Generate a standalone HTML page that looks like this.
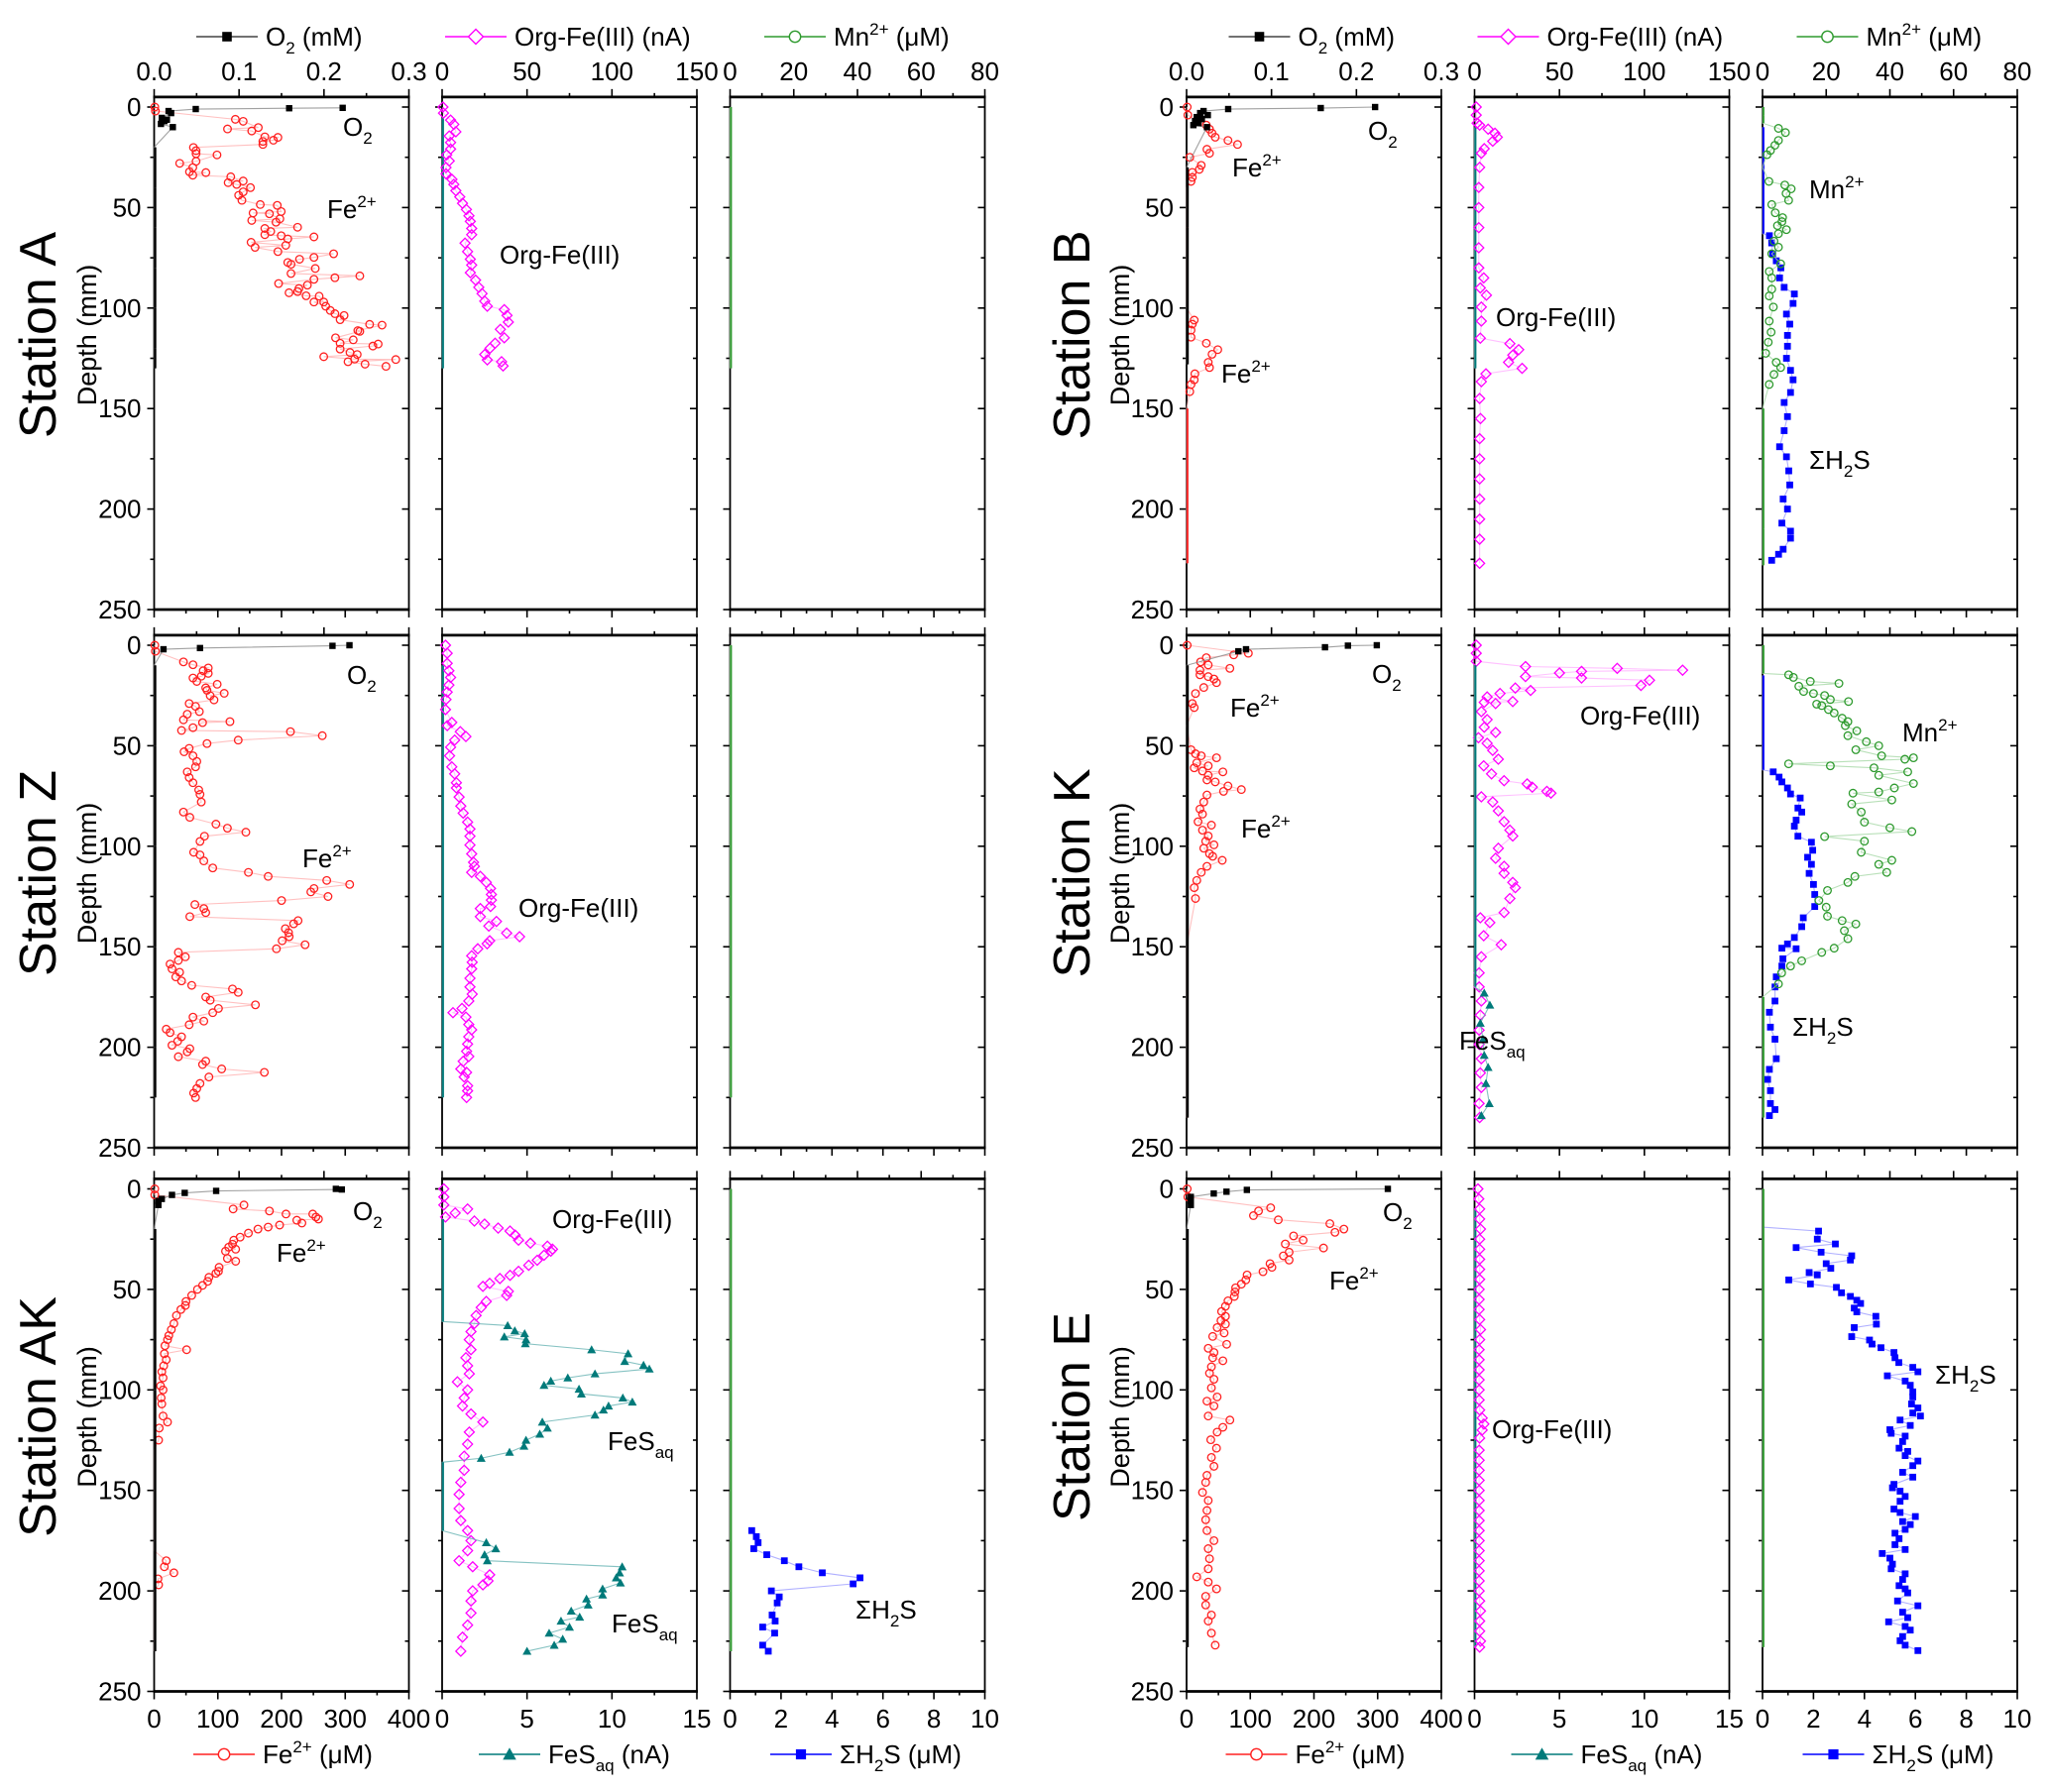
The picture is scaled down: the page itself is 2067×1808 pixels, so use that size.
<!DOCTYPE html>
<html><head><meta charset="utf-8"><style>
html,body{margin:0;padding:0;background:#fff}
svg{display:block}
text{font-family:"Liberation Sans",Arial,sans-serif;fill:#000}
</style></head><body>
<svg id="chart" xmlns="http://www.w3.org/2000/svg" width="2067" height="1808" viewBox="0 0 2067 1808">
<rect width="2067" height="1808" fill="#fff"/>
</svg>
<script>
// ===== Station A =====
const A_o2_d=[0.4,0.6,1,2,3,5.4,6.3,7,8.4,10,20,40,60,80,100,120,130];
const A_o2_v=[0.222,0.159,0.049,0.017,0.02,0.009,0.015,0.012,0.008,0.022,0,0,0,0,0,0,0];
const A_fe_d=[0,2,6.1,7.1,10.9,11.9,10.2,14.8,15.1,17.1,16.5,18.6,20.1,21.7,23.2,23.8,28.0,27.0,30.1,32.2,33.9,32.6,34.7,36.8,37.6,38.5,40.1,42.2,43.9,46.4,48.5,48.9,52.0,52.7,53.1,55.6,56.4,57.3,60.4,61.9,59.8,64.0,64.6,63.5,65.6,67.3,69.8,68.8,71.9,73.0,75.7,77.3,74.8,78.2,80.3,82.8,85.7,84.9,84.0,88.6,87.8,90.3,91.8,92.4,93.9,94.1,97.0,97.0,99.1,101.2,102.8,105.8,103.7,111.6,108.1,108.5,111.2,117.9,114.8,115.8,117.5,118.9,120.4,122.1,123.1,124.2,125.4,126.7,127.9,125.6,129.0];
const A_fe_v=[1,2,127.5,139.8,115.2,153.2,163.5,173.8,194.3,170.7,187.2,170.7,61.7,65.8,65.8,98.7,40.1,65.8,60.7,55.5,60.7,81.2,120.3,139.8,116.2,129.6,151.2,139.8,132.7,137.8,166.6,193.3,199.5,155.3,181.0,197.4,153.2,191.3,173.8,183.0,225.2,199.5,250.9,173.8,209.8,152.2,158.4,206.7,194.3,281.8,228.3,209.8,250.9,214.9,253.0,214.9,250.9,283.8,322.9,240.6,195.4,227.3,225.2,211.8,238.6,259.1,266.3,250.9,269.4,276.6,283.8,292.0,298.2,322.9,338.3,357.8,319.8,351.7,284.8,312.6,292.0,343.4,292.0,307.5,318.8,266.3,314.7,304.4,331.1,379.4,364.0];
const A_org_d=[0,3,6.5,8.6,12.3,14.4,17.6,20.9,23.8,26.8,30.1,33.2,36,38.5,41.6,44.7,47.9,51,54.1,56.9,60.4,63.5,67.7,71.9,75.7,78.6,82.4,86.1,89.7,92.8,96.6,99.1,100.8,103.7,107,110.6,114.8,117.5,120,123.1,125.8,126.7,128.8];
const A_org_v=[0.5,0.8,5,6.9,8.1,4.2,5,5,2.7,4.2,2.3,2.3,5.8,6.9,8.1,10.4,12,14.3,15.8,16.6,17.4,17.4,13.5,15,16.6,17.4,16.6,19.7,21.6,23.5,25.1,26.6,36.6,38.2,39,34.3,36.6,31.2,28.2,25.1,26.6,35,35.9];
const A_fes_d=[5,130]; const A_fes_v=[0,0];
const A_mn_d=[0,130]; const A_mn_v=[0,0];
// ===== Station Z =====
const Z_o2_d=[0,0.3,1.4,2,10,50,100,150,200,225];
const Z_o2_v=[0.23,0.21,0.054,0.011,0,0,0,0,0,0];
const Z_fe_d=[0,3,8.3,9.7,11.3,12.7,14,15.4,16.3,18,19.4,21.2,23.9,22.4,25.1,27.2,29,30.4,33,34.3,37.1,38.5,38,41,42.4,43,45,47.2,48.9,51.3,53,55,57.8,60.5,63,65.8,68.4,72,74.2,78,83,85.6,89,91,93,95,97.6,103,104.3,107.3,110.8,113,115,117,119,121,122.7,125,127,129,131,133,135,137,138.6,141,143,145,147,149,151,152.8,155,156.8,158.6,161,162.7,165,167,169.2,171,172.7,175,176.6,178.9,180.7,182.8,185,187,188.8,191,192.7,194.8,197,199,200.7,202.3,204.7,206.9,208.6,210.8,212.5,214.8,218,220.5,222.8,225];
const Z_fe_v=[1,2,46,61,85,77,85,74,61,67,99,81,110,83,88,94,55,65,71,52,46,76,119,61,43,214,264,132,83,55,47,61,67,65,52,55,61,70,72,74,46,56,97,115,144,79,72,62,72,78,92,148,179,271,307,251,246,273,200,64,78,81,56,226,219,206,211,212,201,237,192,38,49,38,25,28,40,34,43,59,123,132,81,88,159,101,92,61,78,55,19,25,43,37,28,56,52,38,81,76,106,173,86,72,67,62,65];
const Z_org_d=[0,4,9,12.7,16,19.8,23.3,27,32,38.4,40,43,45.4,47.2,50.7,55,60.5,64,68.4,71,75.5,80,83.5,88,91.4,95,99.4,103.8,108,110,113,115,118,121,124,126.8,130,131,135,137.4,139.7,143.2,145,147,148.5,151,154.5,157.7,161,165.7,170,173.6,177,180.7,182.8,185,188.7,191.3,194.8,198.4,202,204.6,207,210.8,212.5,214.8,219.2,221.7,225];
const Z_org_v=[2,3,3,4,5,4,3,2.3,2,5.7,3,10.7,14,7.4,5,4.4,5.7,7.4,8.4,8.4,10,11,12.4,15,16.4,16.4,16.4,17.4,18.5,19,17.4,22.5,26,28.5,29,29,28.5,22.5,22.5,32,27.5,38,45.6,28,26.5,21,17.4,17.7,17.4,16.4,16.4,17.7,15.7,11.7,6.4,14,15.7,17.4,15.7,15,14.4,15.7,12.4,11,14.4,13,15,15,14.4];
const Z_fes_d=[10,225]; const Z_fes_v=[0,0];
const Z_mn_d=[0,225]; const Z_mn_v=[0,0];
// ===== Station AK =====
const AK_o2_d=[0,0.3,1,2,3,5,6,8,20,100,230];
const AK_o2_v=[0.214,0.221,0.073,0.036,0.021,0.009,0.005,0.005,0,0,0];
const AK_fe_d=[0,3,8,10,11,12.5,12.5,14,15,17,15.6,18,19,20,22,24,25.5,27.5,29,31,30,34.6,36,39,41,42,44,46,48,50,53,56,58,60,63,67,70,73,75,78,80,82,85,88,91,94,98,100,104,107,113,116,119,125,130,180,185,188,191,194,197,200,230];
const AK_fe_v=[1,1,141,124,181,207,249,254,258,232,224,197,179,163,148,135,125,123,117,112,128,115,128,102,101,97,86,84,76,68,59,50,49,42,35,31,27,23,21,17,51,16,19,15,12,14,10,14,11,12,14,21,8,7,0,0,19,16,31,6,7,0,0];
const AK_org_d=[0,4,8,10,12,14,16,17.5,19.5,21,23,25.5,27,28.5,30,31,33,35.5,38,41,43,44.6,47,48.5,51,53,56,59,63,67,71,75,80,84,88,92,96,100,104,108,112,116,121,127,133,140,146,152,159,165,170,175,180,185,188,192,195,197,200,205,211,217,223,230];
const AK_org_v=[1,1,1,15,7.7,2,19,25,33,40,43,45,52,62,65,64,60,56,51,45,40,34,28,24,39,38,26,23,20,19,17,16,17,14,15,16,9,15,13,12,17,24,16,15,13,13,11,10,10,11,15,17,15,10,18,28,27,24,18,17,17,15,12,11];
const AK_fes_d=[15,66,68,70.6,72,73.6,75,77,80,82,85.8,87.7,89.6,92,94,95.6,97.7,99.6,102,104,106,108,110,112.5,116,119,122,125,128,131,134,136,170,176,179,182,185,188,191,193.5,196,199,202,204,207,210,213,215,218,221,224,227,230];
const AK_fes_v=[0,0,3.86,4.28,4.86,3.66,4.94,4.9,8.8,10.95,10.75,11.86,12.2,9.0,7.4,6.4,6.0,8.06,8.2,10.64,11.2,9.8,9.5,9.0,5.9,6.2,5.75,4.94,4.82,3.97,2.3,0,0,2.6,3.16,2.5,2.66,10.6,10.45,10.25,10.5,9.45,9.45,8.5,8.6,7.6,8.1,7.0,7.5,6.3,7.1,6.6,5.0];
const AK_mn_d=[0,230]; const AK_mn_v=[0,0];
const AK_h2s_d=[170,173,176,179,182,185,188,191,193.5,196.5,200,203,206,212,215,218,221,227,230];
const AK_h2s_v=[0.85,1.03,1.1,0.93,1.44,2.13,2.7,3.62,5.1,4.83,1.62,1.93,1.85,1.65,1.77,1.28,1.75,1.28,1.5];
// ===== Station B =====
const B_o2_d=[0,0.5,1,2,3,4,5,6,7,8,9,10,30,60,90,128];
const B_o2_v=[0.222,0.158,0.049,0.02,0.016,0.025,0.012,0.018,0.01,0.014,0.008,0.024,0,0,0,0];
const B_fe_d=[0,4,9,11,13,15,16.6,18.6,21,23,25,29,31,32.5,35,37,40,60,80,100,106,108,111,114.5,117.5,120.7,123,127,129.6,132.7,135.7,138,141.6,150,175,200,227];
const B_fe_v=[1,2,31,36,40,45,65,80,32,36,5,23,20,9,9,7,0,0,0,0,12,9,7,7,31,49,40,34,36,13,12,7,5,0,0,0,0];
const B_org_d=[0,4,8,9,11,13,15,17,20.7,23,30,40,50,60,70,80,85,90,93.6,99.5,106.5,115,117.7,120.7,123.4,127,130,132.7,136.6,145,155,165,175,185,195,205,215,227];
const B_org_v=[1,1,1.5,3,8,12,13.4,10.7,5.7,4,3,2.5,2.5,2.5,2.5,2.5,5.4,3.4,7,4,4,3.4,20.8,26,22.5,20,28,6.7,4,3,3.5,3,3,3,3,3,3,3];
const B_fes_d=[10,130]; const B_fes_v=[0,0];
const B_mn_d=[0,4,8,10.6,12.7,16.6,19,21.6,23.7,30,37,38.8,40.7,43,46.4,48.5,52.6,55,57,59,61,63,66.7,69.7,73,78,81.8,85,90.6,94,99.5,106.5,112,117,122.5,127,129.6,133,138,150,180,210,228];
const B_mn_v=[0,0,0,5,7.2,5,3.9,2.5,1.4,0,2,7,9,7.4,8.2,2.9,4,6.3,6.1,4.7,7.5,5,3.6,5,2.9,5.7,2.1,2.9,2.9,2.1,3.4,2.1,2.7,1.8,1,4.3,5.7,3.6,2.1,0,0,0,0];
const B_h2s_d=[10,63,64,67.6,73,76.5,80,85,89.7,93,97.7,103,108,113.6,119,125,131,135.7,142,147,154,161,169,174,181,188,195,200,207,211,214.5,220,222.5,225.5];
const B_h2s_v=[0,0,0.27,0.36,0.4,0.54,0.72,0.67,0.85,1.25,1.2,0.94,1.07,0.98,0.98,0.94,1.1,1.2,1.1,0.85,0.98,0.85,0.67,0.94,1.03,1.07,0.81,0.98,0.76,1.1,1.1,0.81,0.63,0.36];
// ===== Station K =====
const K_o2_d=[0,0.2,1,2,3,10,100,235];
const K_o2_v=[0.224,0.19,0.163,0.07,0.061,0,0,0];
const K_fe_d=[0,4,4.8,6.2,8.3,9.8,11.5,12.4,14.7,15.6,16.8,18.6,21,24,29,31,40,52,54,55,56,58.5,60,61,62.6,63,64.7,67,68,70,72.7,71.8,74.5,78,81.5,84,87.8,89.5,92,94.9,97.5,99.3,101,103.7,105,107,110,113,117,120.6,126,150,200,235];
const K_fe_v=[1,97,74,31,22,34,68,21,21,34,43,47,27,14,9,12,0,7,14,23,47,16,34,12,25,57,34,32,45,65,58,86,32,27,21,25,18,39,25,34,30,43,27,36,41,56,32,23,16,12,14,0,0,0];
const K_org_d=[0,4,8,10.6,11.5,12.4,13,13.8,15.6,16.3,17.4,20,21.3,22.5,24,25.7,28,28.4,29,33,37,40.8,43.4,46,48.8,52.3,56.7,60,64,67.4,69,70.6,72.7,73.6,75.4,78,82.4,87.8,92,94.9,101,106,110,113.5,118,120.6,126,133,135.6,138,144.5,149,155,163,170,177,184,191.5,198.6,205.7,212.8,220,228,235];
const K_org_v=[1,1,1,30,84,122.5,63,50,30,63,103,98,24,33,15,7.4,22.5,5.7,12.4,4,7.4,5.7,12.4,2.3,7.4,10.7,14,5.4,10,17.4,31,34,42.6,45,4,10.7,14,17.4,20.8,22.5,14,12.4,17.4,17.4,22.5,24,20.8,17.4,3.4,9,5.4,15.7,4,2.7,2.7,4,3.4,2.7,2.7,4,3.4,4,2.7,3];
const K_fes_d=[10,170,173,179,188,196,204,210,218,228,234];
const K_fes_v=[0,0,0.57,0.9,0.34,0.5,0.57,0.8,0.67,0.87,0.4];
const K_mn_d=[0,14,14.7,16,18,19,20.4,23,24,25,27,28,29.3,30,32,33.7,36.3,38,40,42.6,45,48,50,52,55,56,56.7,59,60,61,63,64.7,68.8,71,73,73.6,77,79,83,88,90.8,92.7,95.2,97.5,103,107,109,113,115,118,122,127,130.3,134.8,137,138.7,142,146,150.7,152.8,157,159.6,163,168.5,175,200,235];
const K_mn_v=[0,0,8.2,9.7,15,24,11.4,12.9,16,19.5,21.3,27,17,18.6,20.7,22.5,25,26.8,26,29.6,26.8,32.6,36.5,29.3,37.4,47.4,44.7,8.2,21.3,35,45.6,36.5,47.4,41.4,36.5,28.4,40.6,28,31,32,40,46.9,19.5,32,31,40.6,36.5,39,29,26.8,20.4,17.7,20,20.4,25,29.3,25.7,26.8,22.5,18.6,12.3,8.8,6,5,0,0,0];
const K_h2s_d=[15,62,63,65.6,68,71,74,76,81,83,87,90,95,98,102,105.5,109,113.5,119,124,130,135.6,140,145.4,148.6,150.7,151,156,159.6,165,170,177,182.6,190,196,205.7,211,216,221.6,228,231,234];
const K_h2s_v=[0,0,0.42,0.65,0.76,0.98,1.1,1.48,1.39,1.54,1.32,1.25,1.39,1.92,1.97,1.77,1.92,1.83,2.0,2.05,2.05,1.6,1.54,1.25,0.98,0.76,1.32,0.8,0.76,0.54,0.49,0.49,0.27,0.31,0.49,0.54,0.27,0.2,0.31,0.31,0.49,0.27];
// ===== Station E =====
const E_o2_d=[0,0.5,1.4,2.3,4,6,8,20,100,228];
const E_o2_v=[0.237,0.071,0.047,0.032,0.005,0.005,0.005,0,0,0];
const E_fe_d=[0,4,9.4,11,13.3,15.4,17.3,20,21.6,23.4,25.5,27.4,29.4,31.5,33.3,35.4,37.2,39,41.2,42.8,45.3,47.4,49.2,51.3,53.5,55.7,58.4,61,63.4,65.5,67.3,69,71.7,73.4,77.3,79.3,81.4,84,85.5,88.5,91.7,94.7,99,103.5,105.6,108,113,115,118.6,121,124.8,129,133.6,138,142.5,146,151,155,160,164.6,170,175,179,184,189,193,195.6,199,202.7,207,212,215,221,227];
const E_fe_v=[1,2,132,113,105,144,225,247,233,168,183,155,215,161,152,161,131,134,120,95,93,86,77,76,75,65,61,55,61,54,61,48,59,41,63,34,43,41,57,39,36,43,39,48,32,43,34,68,57,48,38,47,39,43,32,30,25,34,32,30,32,43,34,36,34,16,34,47,30,30,39,34,39,45];
const E_org_d=[0,5,10,15,20,25,30,35,40,45,50,55,60,65,70,75,80,85,90,95,100,105,110,114,117,120,124,130,135,140,145,150,155,160,165,170,175,180,185,190,195,200,205,210,215,220,225,228];
const E_org_v=[2,2.5,3,3,3.5,3,3,3,3,3,2.7,2.7,2.7,3,3.5,3,2.7,2.7,2.7,2.7,2.7,2.7,3,4.5,5.5,4.5,3,2.7,2.7,2.7,2.7,2.7,2.7,2.7,2.7,2.7,2.7,2.7,2.7,2.7,2.7,2.7,3,3.5,3,3,3.5,3];
const E_fes_d=[10,228]; const E_fes_v=[0,0];
const E_mn_d=[0,228]; const E_mn_v=[0,0];
const E_h2s_d=[19,21,25,27.4,29.2,31.5,33.3,35.4,37.2,39.5,41.6,42.8,45.3,47.3,49,51.7,53.5,55.4,57,59.3,61.2,63.4,67.3,69,73.5,75.2,77.2,79,81.4,84,86.4,88.8,91,93,95.6,97.7,101,103.5,107,109,111.5,113,115,117.7,119.8,121.6,123,125.7,129,130.6,132.7,135.4,137.7,141,143.4,147,148.7,150.4,153,155.4,159.3,161,163,165.5,167,169.4,171.3,174,177,179.4,181.4,183.7,186.7,189,191.5,194.3,197.4,199,201,205,207.4,210.6,213.3,215.4,217.7,219.5,222.7,224.8,227,229.7];
const E_h2s_v=[0,2.2,2.15,2.86,1.32,2.3,3.5,3.45,2.5,2.68,1.83,2.15,1.03,1.88,2.9,3.1,3.45,3.7,3.85,3.6,3.7,4.45,4.47,3.6,3.5,4.2,4.3,4.65,5.16,5.2,5.35,5.9,6.1,4.9,5.6,5.8,5.9,5.9,5.85,6.1,5.9,6.2,5.4,5.8,5.0,5.05,5.6,5.5,5.36,5.7,5.6,6.1,5.9,5.5,5.9,5.16,5.1,5.4,5.6,5.4,5.16,5.4,6.0,5.5,5.8,5.6,5.2,5.36,5.2,5.6,4.7,5.0,5.1,5.05,5.6,5.5,5.36,5.6,5.7,5.3,6.1,5.5,5.7,4.95,5.6,5.8,5.5,5.4,5.6,6.1];
// axis tick values
const topMax=[0.3,150,80], topStep=[0.1,50,20];
const botMax=[400,15,10], botStep=[100,5,2];
const depthTicks=[0,50,100,150,200,250];

const NS='http://www.w3.org/2000/svg';
const svg=document.getElementById('chart');
const LEFTS=[[155.5,446,736.5],[1197,1487.5,1778]];
const Y0=[108,651,1199.5]; const KMM=2.028; const PW=257;
function mk(tag,attrs,parent){const e=document.createElementNS(NS,tag);for(const k in attrs)e.setAttribute(k,attrs[k]);(parent||svg).appendChild(e);return e;}
function yOf(r,d){return Y0[r]+d*KMM;}
function xOf(x0,v,max){return x0+v/max*PW;}

// frames
for(let side=0;side<2;side++)for(let r=0;r<3;r++)for(let k=0;k<3;k++){
  const x0=LEFTS[side][k],top=yOf(r,-5),bot=yOf(r,250);
  const g=mk('g',{});
  
  
  mk('line',{x1:x0,y1:top,x2:x0,y2:bot,stroke:'#000','stroke-width':1.8},g);
  mk('line',{x1:x0+PW,y1:top,x2:x0+PW,y2:bot,stroke:'#000','stroke-width':1.8},g);
  mk('line',{x1:x0-1,y1:top,x2:x0+PW+1,y2:top,stroke:'#000','stroke-width':2.8},g);
  mk('line',{x1:x0-1,y1:bot,x2:x0+PW+1,y2:bot,stroke:'#000','stroke-width':2.8},g);
  for(let d=0;d<=250;d+=25){const y=yOf(r,d),L=(d%50===0)?7:4;
    mk('line',{x1:x0-L,y1:y,x2:x0,y2:y,stroke:'#000','stroke-width':1.6},g);
    mk('line',{x1:x0+PW-L,y1:y,x2:x0+PW,y2:y,stroke:'#000','stroke-width':1.6},g);}
  for(let i=0;i<=topMax[k]/topStep[k]*2+0.01;i++){const v=i*topStep[k]/2,x=xOf(x0,v,topMax[k]),L=(i%2===0)?8:4;
    mk('line',{x1:x,y1:top-L,x2:x,y2:top,stroke:'#000','stroke-width':1.6},g);}
  for(let i=0;i<=botMax[k]/botStep[k]*2+0.01;i++){const v=i*botStep[k]/2,x=xOf(x0,v,botMax[k]),L=(i%2===0)?8:4;
    mk('line',{x1:x,y1:bot,x2:x,y2:bot+L,stroke:'#000','stroke-width':1.6},g);}
  if(r===0){for(let i=0;i*topStep[k]<=topMax[k]+1e-9;i++){const v=i*topStep[k];
    const t=mk('text',{x:xOf(x0,v,topMax[k]),y:81,'font-size':26,'text-anchor':'middle'});
    
    
    t.textContent=k===0?v.toFixed(1):String(Math.round(v));}}
  if(r===2){for(let i=0;i*botStep[k]<=botMax[k]+1e-9;i++){const v=i*botStep[k];
    const t=mk('text',{x:xOf(x0,v,botMax[k]),y:1743,'font-size':26,'text-anchor':'middle'});
    
    
    t.textContent=String(v);}}
  if(k===0){for(const d of depthTicks){
    const t=mk('text',{x:x0-13,y:yOf(r,d)+9,'font-size':26,'text-anchor':'end'});
    
    
    t.textContent=String(d);}}
}

const STY={
 o2:{c:'#000',lc:'#8a8a8a',m:'sq',s:3.2},
 fe:{c:'#ff2020',lc:'#ffb0b0',m:'circ',s:3.8},
 org:{c:'#ff00ff',lc:'#ffb0ff',m:'dia',s:5},
 fes:{c:'#007a7a',lc:'#66b3b3',m:'tri',s:4.5},
 mn:{c:'#2e9a2e',lc:'#a6d8a6',m:'circ',s:3.8},
 h2s:{c:'#0000ff',lc:'#9c9cff',m:'sq',s:3.4}
};
function drawSeries(side,r,k,max,d,v,type){
  const st=STY[type],x0=LEFTS[side][k];
  const idx=d.map((_,i)=>i).slice(0,Math.min(d.length,v.length)).sort((a,b)=>d[a]-d[b]);
  const g=mk('g',{});
  
  
  const pts=idx.map(i=>[xOf(x0,v[i],max),yOf(r,d[i])]);
  mk('polyline',{points:pts.map(p=>p.join(',')).join(' '),fill:'none',stroke:st.lc,'stroke-width':1.1,opacity:0.8},g);
  for(let j=1;j<idx.length;j++){if(v[idx[j]]===0&&v[idx[j-1]]===0){
    mk('line',{x1:pts[j-1][0]+1,y1:pts[j-1][1],x2:pts[j][0]+1,y2:pts[j][1],stroke:st.c,'stroke-width':type==='o2'?2.4:1.8},g);}}
  idx.forEach((i,j)=>{if(v[i]===0)return;const [x,y]=pts[j],s=st.s;let e;
    if(st.m==='circ')e=mk('circle',{cx:x,cy:y,r:s,fill:'none',stroke:st.c,'stroke-width':1.3},g);
    else if(st.m==='sq')e=mk('rect',{x:x-s,y:y-s,width:2*s,height:2*s,fill:st.c},g);
    else if(st.m==='dia')e=mk('polygon',{points:`${x},${y-s} ${x+s},${y} ${x},${y+s} ${x-s},${y}`,fill:'none',stroke:st.c,'stroke-width':1.3},g);
    else e=mk('polygon',{points:`${x},${y-s} ${x+s},${y+s*0.8} ${x-s},${y+s*0.8}`,fill:st.c},g);
    
    });
}
function station(side,r,S){
  if(S.fe)drawSeries(side,r,0,botMax[0],S.fe[0],S.fe[1],'fe');
  drawSeries(side,r,0,topMax[0],S.o2[0],S.o2[1],'o2');
  if(S.fes)drawSeries(side,r,1,botMax[1],S.fes[0],S.fes[1],'fes');
  drawSeries(side,r,1,topMax[1],S.org[0],S.org[1],'org');
  if(S.fesTop)drawSeries(side,r,1,botMax[1],S.fesTop[0],S.fesTop[1],'fes');
  if(S.h2s)drawSeries(side,r,2,botMax[2],S.h2s[0],S.h2s[1],'h2s');
  drawSeries(side,r,2,topMax[2],S.mn[0],S.mn[1],'mn');
}
station(0,0,{o2:[A_o2_d,A_o2_v],fe:[A_fe_d,A_fe_v],org:[A_org_d,A_org_v],fes:[A_fes_d,A_fes_v],mn:[A_mn_d,A_mn_v]});
station(0,1,{o2:[Z_o2_d,Z_o2_v],fe:[Z_fe_d,Z_fe_v],org:[Z_org_d,Z_org_v],fes:[Z_fes_d,Z_fes_v],mn:[Z_mn_d,Z_mn_v]});
station(0,2,{o2:[AK_o2_d,AK_o2_v],fe:[AK_fe_d,AK_fe_v],org:[AK_org_d,AK_org_v],fesTop:[AK_fes_d,AK_fes_v],mn:[AK_mn_d,AK_mn_v],h2s:[AK_h2s_d,AK_h2s_v]});
station(1,0,{o2:[B_o2_d,B_o2_v],fe:[B_fe_d,B_fe_v],org:[B_org_d,B_org_v],fes:[B_fes_d,B_fes_v],mn:[B_mn_d,B_mn_v],h2s:[B_h2s_d,B_h2s_v]});
station(1,1,{o2:[K_o2_d,K_o2_v],fe:[K_fe_d,K_fe_v],org:[K_org_d,K_org_v],fesTop:[K_fes_d,K_fes_v],mn:[K_mn_d,K_mn_v],h2s:[K_h2s_d,K_h2s_v]});
station(1,2,{o2:[E_o2_d,E_o2_v],fe:[E_fe_d,E_fe_v],org:[E_org_d,E_org_v],fes:[E_fes_d,E_fes_v],mn:[E_mn_d,E_mn_v],h2s:[E_h2s_d,E_h2s_v]});

// text helpers: rich text with sub/superscripts, rest text carries the return shift
function rich(base,script,up,rest){
  const dy=up?-11:8;
  return `${base}<tspan dy="${dy}" font-size="17">${script}</tspan><tspan dy="${-dy}">${rest||'\u200b'}</tspan>`;
}
function txt(html,x,y,size,name){const t=mk('text',{x:x,y:y,'font-size':size});
  
  
  t.innerHTML=html;return t;}

// station labels
const stNames=[['Station A','Station Z','Station AK'],['Station B','Station K','Station E']];
for(let side=0;side<2;side++)for(let r=0;r<3;r++){
  const cy=Y0[r]+230, sx=side?1099:56, dx=side?1139:97;
  const t=mk('text',{x:0,y:0,'font-size':52,'text-anchor':'middle',transform:`translate(${sx},${cy}) rotate(-90)`});
  
  
  t.textContent=stNames[side][r];
  const t2=mk('text',{x:0,y:0,'font-size':27,'text-anchor':'middle',transform:`translate(${dx},${cy}) rotate(-90)`});
  
  
  t2.textContent='Depth (mm)';
}
// legends
function legend(x,y,type,html){const st=STY[type];const g=mk('g',{});
  
  
  mk('line',{x1:x,y1:y,x2:x+62,y2:y,stroke:type==='o2'?'#444':st.c,'stroke-width':1.5},g);
  const cx=x+31,s=st.s*1.5;
  if(st.m==='circ')mk('circle',{cx:cx,cy:y,r:s,fill:'#fff',stroke:st.c,'stroke-width':1.4},g);
  else if(st.m==='sq')mk('rect',{x:cx-s,y:y-s,width:2*s,height:2*s,fill:st.c},g);
  else if(st.m==='dia')mk('polygon',{points:`${cx},${y-s} ${cx+s},${y} ${cx},${y+s} ${cx-s},${y}`,fill:'#fff',stroke:st.c,'stroke-width':1.4},g);
  else mk('polygon',{points:`${cx},${y-s} ${cx+s},${y+s*0.8} ${cx-s},${y+s*0.8}`,fill:st.c},g);
  const t=mk('text',{x:x+70,y:y+9,'font-size':26},g);t.innerHTML=html;}
for(const off of [0,1041.5]){
  legend(198+off,37,'o2',rich('O','2',false,' (mM)'));
  legend(449+off,37,'org','Org-Fe(III) (nA)');
  legend(771+off,37,'mn',rich('Mn','2+',true,' (μM)'));
  legend(195+off,1770,'fe',rich('Fe','2+',true,' (μM)'));
  legend(483+off,1770,'fes',rich('FeS','aq',false,' (nA)'));
  legend(777+off,1770,'h2s',rich('ΣH','2',false,'S (μM)'));
}
// annotations
const O2L=rich('O','2',false,''), FEL=rich('Fe','2+',true,''), ORGL='Org-Fe(III)', FESL=rich('FeS','aq',false,''), H2SL=rich('ΣH','2',false,'S'), MNL=rich('Mn','2+',true,'');
const ann=[
 [O2L,346,137],[FEL,330,220],[ORGL,504,266],
 [O2L,350,690],[FEL,305,875],[ORGL,523,925],
 [O2L,356,1231],[FEL,279,1273],[ORGL,557,1239],[FESL,613,1463],[FESL,617,1647],[H2SL,863,1633],
 [O2L,1380,141],[FEL,1243,178],[FEL,1232,386],[ORGL,1509,329],[MNL,1825,200],[H2SL,1825,473],
 [O2L,1384,689],[FEL,1241,723],[FEL,1252,845],[ORGL,1594,731],[MNL,1919,748],[H2SL,1808,1045],[FESL,1472,1059],
 [O2L,1395,1232],[FEL,1341,1301],[ORGL,1505,1451],[H2SL,1952,1396]
];
ann.forEach(a=>txt(a[0],a[1],a[2],26,'series-annotation'));
</script>
</body></html>
